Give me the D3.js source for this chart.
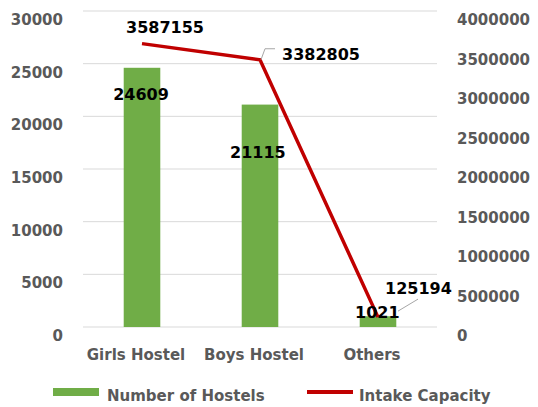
<!DOCTYPE html>
<html>
<head>
<meta charset="utf-8">
<script src="https://cdn.jsdelivr.net/npm/d3@7"></script>
<style>
  body { margin: 0; background: #fff; }
  svg { display: block; }
  text { font-family: "DejaVu Sans", sans-serif; font-weight: bold; }
</style>
</head>
<body>
<svg id="chart" width="538" height="407"></svg>
<script>
const categories = ['Girls Hostel', 'Boys Hostel', 'Others'];
const hostels = [24609, 21115, 1021];          // left axis, bars
const capacity = [3587155, 3382805, 125194];   // right axis, line
const leftTicks = [0, 5000, 10000, 15000, 20000, 25000, 30000];
const rightTicks = [0, 500000, 1000000, 1500000, 2000000, 2500000, 3000000, 3500000, 4000000];

const svg = d3.select('#chart');
const plot = { left: 83, right: 437, top: 11, bottom: 327 };

const x = d3.scaleBand().domain(categories).range([plot.left, plot.right]).padding(0);
const yL = d3.scaleLinear().domain([0, 30000]).range([plot.bottom, plot.top]);
const yR = d3.scaleLinear().domain([0, 4000000]).range([plot.bottom, plot.top]);
const barW = x.bandwidth() * 0.31;
const cx = d => x(d) + x.bandwidth() / 2;

// gridlines
svg.append('g').selectAll('line')
  .data(leftTicks)
  .join('line')
  .attr('x1', plot.left).attr('x2', plot.right)
  .attr('y1', d => yL(d)).attr('y2', d => yL(d))
  .attr('stroke', '#d9d9d9').attr('stroke-width', 1);

// axes (labels only)
const gL = svg.append('g')
  .attr('transform', `translate(${plot.left},0)`)
  .call(d3.axisLeft(yL).tickValues(leftTicks).tickSize(0).tickPadding(20).tickFormat(d3.format('d')));
const gR = svg.append('g')
  .attr('transform', `translate(${plot.right},0)`)
  .call(d3.axisRight(yR).tickValues(rightTicks).tickSize(0).tickPadding(20).tickFormat(d3.format('d')));
[gL, gR].forEach(g => {
  g.select('.domain').remove();
  g.selectAll('text')
    .attr('dy', '0.9em')
    .attr('fill', '#595959')
    .style('font-size', '15px')
    .style('font-family', '"DejaVu Sans", sans-serif')
    .style('font-weight', 'bold');
});

// category labels
svg.append('g').selectAll('text')
  .data(categories)
  .join('text')
  .attr('x', d => cx(d) - 6)
  .attr('y', 360)
  .attr('text-anchor', 'middle')
  .attr('fill', '#595959')
  .style('font-size', '15px')
  .text(d => d);

// bars
svg.append('g').selectAll('rect')
  .data(categories)
  .join('rect')
  .attr('x', d => cx(d) - barW / 2)
  .attr('width', barW)
  .attr('y', (d, i) => yL(hostels[i]))
  .attr('height', (d, i) => yL(0) - yL(hostels[i]))
  .attr('fill', '#70ad47');

// line
const line = d3.line()
  .x(d => cx(d.c))
  .y(d => yR(d.v));
svg.append('path')
  .datum(categories.map((c, i) => ({ c, v: capacity[i] })))
  .attr('d', line)
  .attr('fill', 'none')
  .attr('stroke', '#c00000')
  .attr('stroke-width', 3.5);

// leader lines for moved labels
const p1 = [cx(categories[1]), yR(capacity[1])];
svg.append('path')
  .attr('d', `M${p1[0] + 1},${p1[1]} L${p1[0] + 5},${p1[1] - 11} L${p1[0] + 15},${p1[1] - 11}`)
  .attr('fill', 'none').attr('stroke', '#a6a6a6').attr('stroke-width', 1);
const p2 = [cx(categories[2]), yR(capacity[2])];
svg.append('line')
  .attr('x1', p2[0] + 20).attr('y1', p2[1] - 6)
  .attr('x2', p2[0] + 40).attr('y2', p2[1] - 18)
  .attr('stroke', '#a6a6a6').attr('stroke-width', 1);

// data labels
const labelStyle = sel => sel.attr('fill', '#000').style('font-size', '16px');
const barLabelPos = [[cx(categories[0]) - 1, 100, 'middle'], [230, 158, 'start'], [355, 318, 'start']];
svg.append('g').selectAll('text')
  .data(hostels)
  .join('text')
  .attr('x', (d, i) => barLabelPos[i][0])
  .attr('y', (d, i) => barLabelPos[i][1])
  .attr('text-anchor', (d, i) => barLabelPos[i][2])
  .call(labelStyle)
  .text(d => d);

const lineLabelPos = [[126, 33], [282, 60], [385, 294]];
svg.append('g').selectAll('text')
  .data(capacity)
  .join('text')
  .attr('x', (d, i) => lineLabelPos[i][0])
  .attr('y', (d, i) => lineLabelPos[i][1])
  .call(labelStyle)
  .text(d => d);

// legend
const legend = svg.append('g');
legend.append('rect')
  .attr('x', 53).attr('y', 388).attr('width', 46).attr('height', 8)
  .attr('fill', '#70ad47');
legend.append('text')
  .attr('x', 107).attr('y', 401)
  .attr('fill', '#595959').style('font-size', '15px')
  .text('Number of Hostels');
legend.append('line')
  .attr('x1', 307).attr('x2', 353).attr('y1', 392).attr('y2', 392)
  .attr('stroke', '#c00000').attr('stroke-width', 4);
legend.append('text')
  .attr('x', 359).attr('y', 401)
  .attr('fill', '#595959').style('font-size', '15px')
  .text('Intake Capacity');
</script>
</body>
</html>
